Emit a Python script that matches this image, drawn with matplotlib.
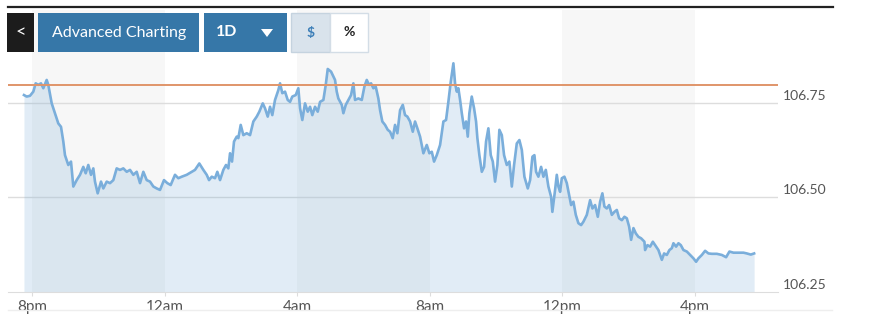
import matplotlib
matplotlib.use("Agg")
import matplotlib.pyplot as plt
from matplotlib.patches import Rectangle, Polygon
from matplotlib.transforms import offset_copy

plt.rcParams['font.family'] = ['Lato', 'DejaVu Sans']

# minutes after 8pm, and index level
minutes = [-14.5, -9.6, -3.6, 2.4, 6.7, 11.4, 16.3, 20.5, 26.6, 29.5, 35.7, 41.6, 47.6, 52.5,
           56.7, 59.7, 65.7, 70.6, 74.8, 80.9, 86.9, 92.9, 97.2, 101.9, 106.8, 111.0, 114.0,
           118.9, 124.9, 129.1, 135.2, 141.2, 147.2, 153.3, 159.3, 165.3, 171.4, 177.4, 183.4,
           189.5, 195.5, 201.5, 207.6, 213.6, 219.6, 225.7, 231.7, 238.9, 244.9, 251.0, 258.8,
           264.8, 271.0, 280.0, 289.1, 295.0, 302.8, 310.1, 316.2, 320.4, 325.3, 331.2, 335.4,
           340.3, 346.3, 351.1, 355.3, 358.4, 362.0, 365.6, 370.5, 373.4, 377.7, 382.5, 388.6,
           394.6, 400.6, 406.7, 411.4, 417.6, 421.7, 426.6, 430.8, 434.9, 439.8, 445.8, 448.9,
           453.0, 457.9, 462.8, 467.0, 471.1, 477.3, 482.0, 485.1, 489.2, 494.1, 499.0, 503.2,
           507.3, 512.2, 517.1, 521.3, 527.3, 531.6, 535.2, 541.2, 545.4, 548.4, 551.5, 554.4,
           560.6, 563.5, 567.8, 572.5, 577.4, 581.6, 584.6, 590.6, 596.8, 601.5, 605.8, 610.0,
           613.6, 617.8, 622.1, 626.8, 629.9, 634.0, 638.9, 643.8, 648.0, 652.8, 657.0, 661.2,
           666.1, 671.0, 675.1, 679.3, 684.2, 689.1, 693.2, 697.4, 702.3, 708.3, 714.4, 719.1,
           723.5, 727.6, 732.5, 738.5, 744.5, 749.3, 753.5, 757.8, 762.6, 765.6, 768.7, 771.6,
           774.7, 777.8, 781.9, 785.5, 788.6, 791.5, 795.8, 800.0, 803.6, 806.0, 809.6, 814.0,
           818.1, 821.7, 825.9, 830.2, 833.9, 838.0, 842.2, 845.8, 850.2, 854.3, 859.2, 863.9,
           868.3, 872.4, 877.3, 882.0, 886.4, 891.1, 897.2, 901.4, 905.6, 909.2, 912.2, 916.4,
           921.3, 925.5, 929.8, 934.5, 939.4, 941.7, 946.6, 949.7, 952.6, 955.7, 958.8, 963.5,
           967.8, 972.0, 975.6, 979.8, 984.1, 988.8, 993.7, 997.9, 1004.0, 1010.0, 1014.2,
           1019.0, 1023.9, 1028.1, 1032.2, 1035.9, 1040.2, 1044.4, 1049.3, 1054.0, 1058.3,
           1062.5, 1067.4, 1072.1, 1076.4, 1080.6, 1084.2, 1088.4, 1092.7, 1097.4, 1102.3,
           1108.3, 1109.5, 1113.7, 1118.6, 1123.5, 1127.6, 1133.6, 1139.8, 1143.9, 1148.8,
           1153.5, 1157.9, 1160.8, 1165.6, 1169.8, 1174.1, 1178.9, 1185.0, 1191.0, 1197.0,
           1201.8, 1206.0, 1212.2, 1218.1, 1224.1, 1230.3, 1239.3, 1248.4, 1256.1, 1262.1,
           1269.4, 1278.4, 1287.5, 1293.6, 1300.8, 1306.8]
prices = [106.771, 106.767, 106.769, 106.780, 106.802, 106.798, 106.802, 106.789, 106.811,
          106.798, 106.749, 106.723, 106.696, 106.687, 106.648, 106.612, 106.586, 106.595,
          106.529, 106.546, 106.560, 106.581, 106.564, 106.586, 106.560, 106.577, 106.542,
          106.511, 106.542, 106.524, 106.542, 106.538, 106.546, 106.577, 106.573, 106.577,
          106.568, 106.573, 106.560, 106.568, 106.538, 106.568, 106.546, 106.542, 106.529,
          106.524, 106.520, 106.546, 106.538, 106.533, 106.560, 106.551, 106.555, 106.560,
          106.568, 106.573, 106.590, 106.573, 106.560, 106.546, 106.555, 106.551, 106.568,
          106.546, 106.573, 106.586, 106.577, 106.617, 106.595, 106.648, 106.661, 106.657,
          106.692, 106.665, 106.670, 106.665, 106.701, 106.714, 106.727, 106.749, 106.736,
          106.714, 106.740, 106.718, 106.758, 106.784, 106.802, 106.776, 106.780, 106.758,
          106.753, 106.767, 106.771, 106.789, 106.736, 106.705, 106.749, 106.727, 106.740,
          106.718, 106.740, 106.727, 106.753, 106.758, 106.798, 106.840, 106.833, 106.820,
          106.811, 106.780, 106.762, 106.745, 106.723, 106.745, 106.758, 106.771, 106.802,
          106.758, 106.762, 106.758, 106.793, 106.811, 106.798, 106.802, 106.789, 106.793,
          106.762, 106.731, 106.701, 106.692, 106.679, 106.674, 106.657, 106.692, 106.670,
          106.731, 106.745, 106.718, 106.714, 106.701, 106.674, 106.701, 106.683, 106.661,
          106.617, 106.639, 106.617, 106.621, 106.595, 106.612, 106.639, 106.701, 106.705,
          106.753, 106.806, 106.855, 106.802, 106.780, 106.789, 106.758, 106.723, 106.683,
          106.701, 106.661, 106.723, 106.767, 106.736, 106.701, 106.657, 106.612, 106.568,
          106.581, 106.648, 106.683, 106.612, 106.595, 106.542, 106.586, 106.679, 106.665,
          106.612, 106.586, 106.595, 106.529, 106.586, 106.643, 106.652, 106.626, 106.555,
          106.524, 106.546, 106.608, 106.612, 106.568, 106.555, 106.581, 106.555, 106.573,
          106.529, 106.502, 106.462, 106.520, 106.560, 106.529, 106.515, 106.551, 106.555,
          106.538, 106.507, 106.480, 106.489, 106.454, 106.432, 106.427, 106.436, 106.454,
          106.493, 106.471, 106.480, 106.449, 106.489, 106.511, 106.476, 106.471, 106.480,
          106.454, 106.462, 106.467, 106.445, 106.440, 106.449, 106.445, 106.423, 106.388,
          106.419, 106.405, 106.396, 106.392, 106.383, 106.361, 106.374, 106.370, 106.383,
          106.374, 106.361, 106.335, 106.352, 106.348, 106.361, 106.366, 106.379, 106.370,
          106.379, 106.374, 106.361, 106.357, 106.348, 106.339, 106.330, 106.339, 106.348,
          106.359, 106.352, 106.351, 106.351, 106.348, 106.342, 106.357, 106.354, 106.354,
          106.354, 106.352, 106.349, 106.352]

prev_close = 106.798
tick_pos = [0, 240, 480, 720, 960, 1200]
tick_labels = ['8pm', '12am', '4am', '8am', '12pm', '4pm']
y_ticks = [106.25, 106.50, 106.75]
y_labels = ['106.25', '106.50', '106.75']

W, H = 870, 334
fig = plt.figure(figsize=(W / 100, H / 100), dpi=100)
ax = fig.add_axes([8 / W, 1 - 292 / H, 770 / W, 282 / H])

ax.set_xlim(-43.4, 1350)
ax.set_ylim(106.25, 106.996)

# alternating 4-hour bands
for start in tick_pos[::2]:
    ax.axvspan(start, start + 240, color='#f7f7f7', lw=0, zorder=0)

for v in y_ticks[1:]:
    ax.axhline(v, color='#dddddd', lw=1, zorder=1)
ax.axhline(prev_close, color='#e0956a', lw=1.4, zorder=4)

ax.fill_between(minutes, prices, 106.25, color='#5b9bd0', alpha=0.18, lw=0, zorder=2)
ax.plot(minutes, prices, color='#7aaedb', lw=1.9, zorder=3)

for s in ['top', 'left', 'right']:
    ax.spines[s].set_visible(False)
ax.spines['bottom'].set_color('#dddddd')
ax.set_xticks(tick_pos)
ax.set_xticklabels(tick_labels, fontsize=11, color='#555555')
ax.tick_params(axis='x', length=3, color='#dddddd', pad=3)
ax.set_yticks([])

tr = offset_copy(ax.get_yaxis_transform(), fig=fig, x=5, y=7, units='dots')
for v, lab in zip(y_ticks, y_labels):
    ax.text(1.0, v, lab, transform=tr, ha='left', va='center', fontsize=10,
            color='#555555', clip_on=False)

# overlay in pixel coordinates for the toolbar and rules
ov = fig.add_axes([0, 0, 1, 1], zorder=10)
ov.set_xlim(0, W)
ov.set_ylim(H, 0)
ov.axis('off')
ov.patch.set_alpha(0)

ov.plot([8, 833], [7, 7], color='#222222', lw=1.6)
ov.plot([8, 832], [310, 310], color='#eeeeee', lw=1)

blue = '#3677a8'
ov.add_patch(Rectangle((7.5, 12.7), 27, 39.6, color='#1c1c1c', lw=0))
ov.text(21, 32, '<', color='white', fontsize=13, ha='center', va='center')
ov.add_patch(Rectangle((38.3, 12.7), 161, 39.6, color=blue, lw=0))
ov.text(118.8, 32.5, 'Advanced Charting', color='white', fontsize=11.5, ha='center', va='center')
ov.add_patch(Rectangle((203.7, 12.7), 83.3, 39.6, color=blue, lw=0))
ov.text(227, 32.5, '1D', color='white', fontsize=11.5, ha='center', va='center', fontweight='bold')
ov.add_patch(Polygon([[261, 29], [273, 29], [267, 37]], closed=True, color='white', lw=0))
ov.add_patch(Rectangle((291, 13.2), 39, 38.6, facecolor='#d9e3ec', edgecolor='#c5d3df', lw=1))
ov.text(311, 32.5, '$', color='#3d7fb8', fontsize=10, ha='center', va='center', fontweight='bold')
ov.add_patch(Rectangle((330, 13.2), 38.3, 38.6, facecolor='white', edgecolor='#d3dde6', lw=1))
ov.text(349, 32.5, '%', color='#222222', fontsize=10, ha='center', va='center', fontweight='bold')

fig.savefig('out.png', dpi=100)
